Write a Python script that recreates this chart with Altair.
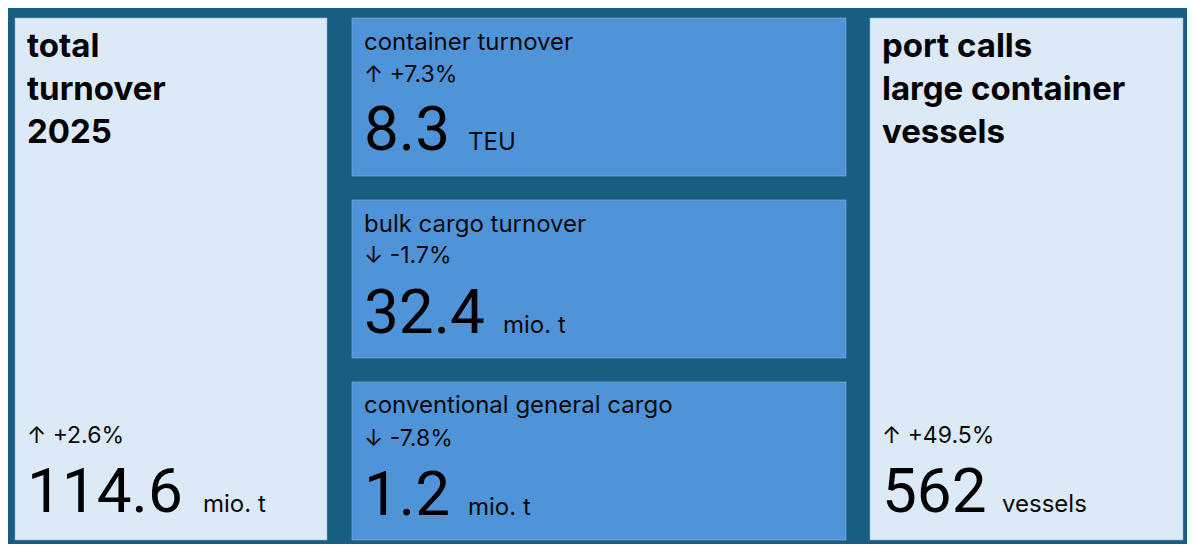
import altair as alt
import pandas as pd

# ---- data ----
titles = ["total\nturnover\n2025", "container turnover", "bulk cargo turnover",
          "conventional general cargo", "port calls\nlarge container\nvessels"]
values = [114.6, 8.3, 32.4, 1.2, 562]
changes = [2.6, 7.3, -1.7, -7.8, 49.5]
units = ["mio. t", "TEU", "mio. t", "mio. t", "vessels"]
kinds = ["big", "small", "small", "small", "big"]

# ---- layout (page pixels) ----
panel_x0 = [15, 352, 352, 352, 870]
panel_x1 = [327, 846, 846, 846, 1183]
panel_y0 = [18, 18, 200, 382, 18]
panel_y1 = [540, 176, 358, 540, 540]
text_x = [27, 364, 364, 364, 882]
title_y = [57, 50, 232, 413, 57]
change_y = [443, 82, 263, 446, 443]
value_y = [512, 150, 333, 515, 512]
unit_x = [203, 468, 503, 468, 1002]
fills = ["#DCE9F6", "#4F94D8", "#4F94D8", "#4F94D8", "#DCE9F6"]

FONT = "Inter"
NUMFONT = "Roboto"

df = pd.DataFrame({
    "title": titles,
    "value_label": [f"{v:g}" for v in values],
    "change_label": [("↑" if c > 0 else "↓") + f" {c:+.1f}%" for c in changes],
    "unit": units,
    "kind": kinds,
    "x0": panel_x0, "x1": panel_x1, "y0": panel_y0, "y1": panel_y1,
    "tx": text_x, "ty": title_y, "cy": change_y, "vy": value_y, "ux": unit_x,
    "fill": fills,
})

# page coordinates: chart occupies page x 8..1187, y 8..544
xs = alt.Scale(domain=[8, 1187], nice=False, zero=False)
ys = alt.Scale(domain=[8, 544], nice=False, zero=False, reverse=True)

base = alt.Chart(df)

panels = base.mark_rect(strokeWidth=1, stroke="#8FB3D6", strokeOpacity=0.6).encode(
    x=alt.X("x0:Q", scale=xs, axis=None),
    x2="x1:Q",
    y=alt.Y("y0:Q", scale=ys, axis=None),
    y2="y1:Q",
    fill=alt.Fill("fill:N", scale=None),
)

title_big = base.transform_filter(alt.datum.kind == "big").mark_text(
    font=FONT, fontSize=33, fontWeight="bold", align="left", baseline="alphabetic",
    lineBreak="\n", lineHeight=43, color="#000000"
).encode(
    x=alt.X("tx:Q", scale=xs, axis=None),
    y=alt.Y("ty:Q", scale=ys, axis=None),
    text="title:N",
)

title_small = base.transform_filter(alt.datum.kind == "small").mark_text(
    font=FONT, fontSize=24, align="left", baseline="alphabetic", color="#0a0a0a"
).encode(
    x=alt.X("tx:Q", scale=xs, axis=None),
    y=alt.Y("ty:Q", scale=ys, axis=None),
    text="title:N",
)

change_txt = base.mark_text(
    font=FONT, fontSize=23, align="left", baseline="alphabetic", color="#0a0a0a"
).encode(
    x=alt.X("tx:Q", scale=xs, axis=None),
    y=alt.Y("cy:Q", scale=ys, axis=None),
    text="change_label:N",
)

value_txt = base.mark_text(
    font=NUMFONT, fontSize=62, align="left", baseline="alphabetic", color="#000000"
).encode(
    x=alt.X("tx:Q", scale=xs, axis=None),
    y=alt.Y("vy:Q", scale=ys, axis=None),
    text="value_label:N",
)

unit_txt = base.mark_text(
    font=FONT, fontSize=24, align="left", baseline="alphabetic", color="#0a0a0a"
).encode(
    x=alt.X("ux:Q", scale=xs, axis=None),
    y=alt.Y("vy:Q", scale=ys, axis=None),
    text="unit:N",
)

chart = alt.layer(panels, title_big, title_small, change_txt, value_txt, unit_txt).properties(
    width=1179, height=536,
    autosize=alt.AutoSizeParams(type="none"),
    padding=0,
).configure(background="#175E82").configure_view(strokeWidth=0)

chart.save("out.html", embed_options={"renderer": "svg", "actions": False})
